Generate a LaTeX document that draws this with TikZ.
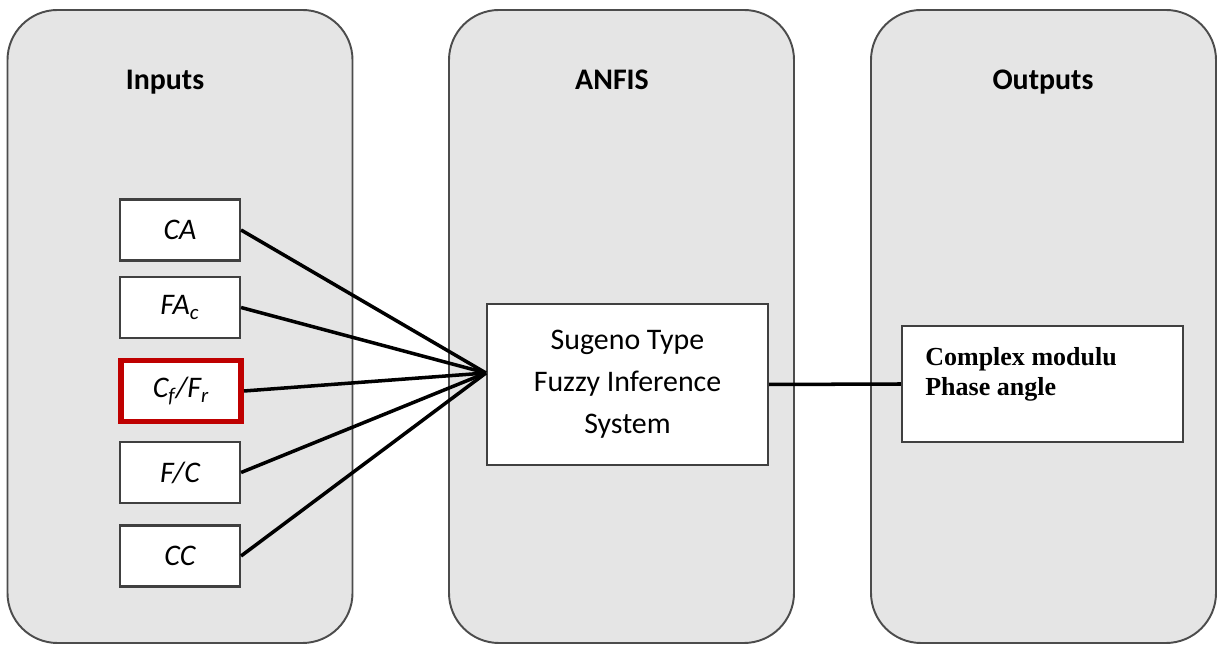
\documentclass[tikz,border=0pt]{standalone}
\usepackage{fontspec}
\setmainfont{Carlito}
\newfontfamily\outfont{Liberation Serif}
\usepackage{tikz}
\usetikzlibrary{positioning}
\tikzset{
  panel/.style   = { draw=black!70, line width=1.1pt, fill=black!10, rounded corners=1cm,
                     minimum width=6.9cm, minimum height=12.66cm },
  heading/.style = { anchor=base, font=\fontsize{17}{20}\selectfont\bfseries },
  inbox/.style   = { draw=black!75, line width=1.2pt, fill=white,
                     minimum width=2.4cm, minimum height=1.22cm,
                     font=\fontsize{17}{20}\selectfont\itshape },
  picked/.style  = { draw=red!75!black, line width=3.4pt },
  fisbox/.style  = { draw=black!75, line width=1.2pt, fill=white,
                     minimum width=5.62cm, minimum height=3.22cm, align=center,
                     font=\fontsize{17}{24}\selectfont },
  outbox/.style  = { draw=black!75, line width=1.2pt, fill=white,
                     minimum width=5.62cm, minimum height=2.32cm },
  wire/.style    = { line width=2pt, black }
}

\begin{document}
\begin{tikzpicture}
  \useasboundingbox (0,0) rectangle (24.4,12.94);

  % Draw the three panels
  \node[panel] (inputs)  at (3.6,6.41)   {};
  \node[panel] (anfis)   at (12.43,6.41) {};
  \node[panel] (outputs) at (20.87,6.41) {};

  \node[heading] (tin)   at (3.3,11.14)   {Inputs};
  \node[heading] (tfis)  at (12.24,11.14) {ANFIS};
  \node[heading] (tout)  at (20.86,11.14) {Outputs};

  % Draw input boxes
  \node[inbox]         (ca)  at (3.6,8.34)  {CA};
  \node[inbox]         (fac) at (3.6,6.79)  {FA\textsubscript{c}};
  \node[inbox, picked] (cf)  at (3.62,5.12) {C\textsubscript{f}/F\textsubscript{r}};
  \node[inbox]         (fc)  at (3.6,3.49)  {F/C};
  \node[inbox]         (cc)  at (3.6,1.82)  {CC};

  % Draw the inference system and the outputs
  \node[fisbox] (fis) at (12.55,5.25) {Sugeno Type\\Fuzzy Inference\\System};
  \node[outbox] (out) at (20.85,5.26) {};
  \node[anchor=north west, align=left, inner sep=0pt,
        font=\outfont\bfseries\fontsize{14.8}{17}\selectfont]
        (outtxt) at ([xshift=0.48cm,yshift=-0.45cm]out.north west)
        {Complex modulu\\Phase angle};

  % Draw connections
  \coordinate (hub) at ([yshift=0.23cm]fis.west);
  \foreach \n in {ca,fac,cf,fc,cc}
    \draw[wire] (\n.east) -- (hub);
  \draw[wire] (fis.east) -- (out.west);
\end{tikzpicture}
\end{document}
